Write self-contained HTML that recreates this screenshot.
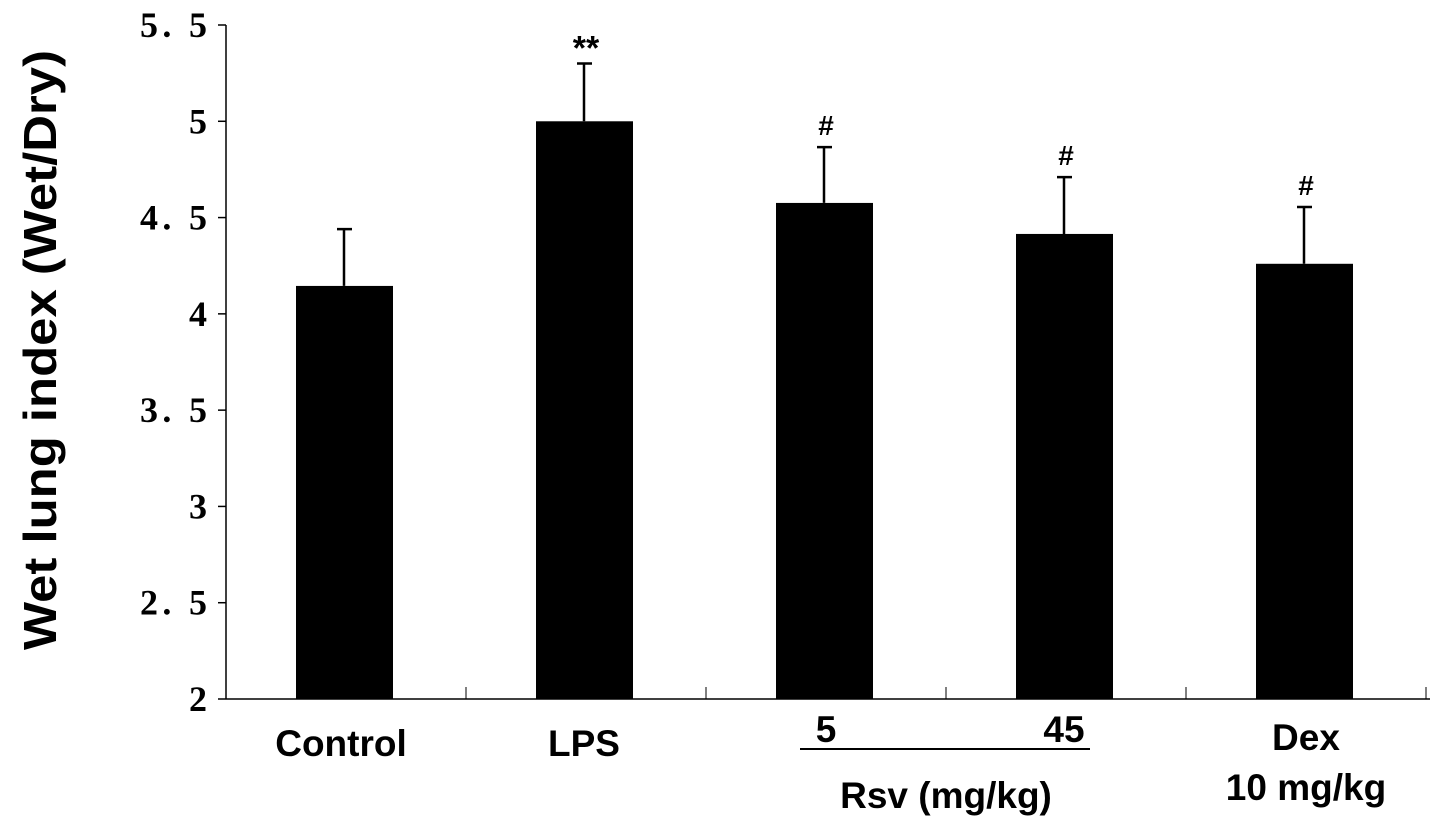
<!DOCTYPE html>
<html><head><meta charset="utf-8"><style>
body{margin:0;background:#fff;width:1441px;height:830px;overflow:hidden}
svg{display:block}
.tk{font-family:"Liberation Serif",serif;font-weight:bold;font-size:36px}
.cat{font-family:"Liberation Sans",sans-serif;font-weight:bold;font-size:37px}
</style></head><body>
<svg id="chart" width="1441" height="830">
<text transform="translate(56,350) rotate(-90)" text-anchor="middle" font-family="Liberation Sans,sans-serif" font-weight="bold" font-size="46" textLength="600" lengthAdjust="spacingAndGlyphs">Wet lung index (Wet/Dry)</text>
<g id="g"></g>
</svg>
<script>
const categories=["Control","LPS","Rsv5","Rsv45","Dex"];
const means=[4.145,5.0,4.576,4.415,4.26];
const errors=[0.295,0.3,0.29,0.295,0.295];
const marks=["","**","#","#","#"];
const yTicks=[2,2.5,3,3.5,4,4.5,5,5.5];
const yTickLabels=["2","2. 5","3","3. 5","4","4. 5","5","5. 5"];
const NS="http://www.w3.org/2000/svg";
const g=document.getElementById('g');
const x0=226,x1=1426,yMin=2,yMax=5.5,py0=699,py1=25;
function ys(v){return py0-(v-yMin)/(yMax-yMin)*(py0-py1);}
const bw=(x1-x0)/categories.length;
function xc(i){return x0+bw*(i+0.5);}
function el(t,a,p){const e=document.createElementNS(NS,t);for(const k in a)e.setAttribute(k,a[k]);(p||g).appendChild(e);return e;}
let ax=el('line',{x1:x0,y1:py1,x2:x0,y2:py0,stroke:'#000','stroke-width':1.5});


let xa=el('line',{x1:x0,y1:py0,x2:x1+4,y2:py0,stroke:'#000','stroke-width':1.5});


yTicks.forEach((v,i)=>{
 const y=ys(v);
 el('line',{x1:x0-8,y1:y,x2:x0,y2:y,stroke:'#000','stroke-width':1.5});
 const a={x:207,y:y+12,'text-anchor':'end',class:'tk'};
 if(yTickLabels[i].length>1){a.textLength=67;a.lengthAdjust='spacing';}
 const t=el('text',a);
 t.textContent=yTickLabels[i];
 
 
});
for(let i=1;i<=categories.length;i++){
 el('line',{x1:x0+bw*i,y1:py0,x2:x0+bw*i,y2:py0-12,stroke:'#000','stroke-width':1});
}
categories.forEach((c,i)=>{
 const cx=xc(i)-2,top=ys(means[i]),et=ys(means[i]+errors[i]);
 const b=el('rect',{x:cx-48,y:top,width:97,height:py0-top,fill:'#000'});
 
 
 const e=el('path',{d:`M${cx},${top}V${et}M${cx-7},${et}H${cx+8}`,stroke:'#000','stroke-width':2.5,fill:'none'});
 
 
 if(marks[i]){
  const m=el('text',{x:cx+2,y:et-(marks[i]==='#'?12:4),'text-anchor':'middle','font-family':'Liberation Sans,sans-serif','font-weight':'bold','font-size':marks[i]==='#'?28:34});
  m.textContent=marks[i];
  
  
 }
});
const labels=[["Control",341,756],["LPS",584,756],["5",826,742],["45",1064,742],["Dex",1306,750],["Rsv (mg/kg)",946,808],["10 mg/kg",1306,800]];
labels.forEach(l=>{
 const t=el('text',{x:l[1],y:l[2],'text-anchor':'middle',class:'cat'});
 t.textContent=l[0];
 
 
});
const u=el('line',{x1:800,y1:749,x2:1090,y2:749,stroke:'#000','stroke-width':2});


</script>
</body></html>
